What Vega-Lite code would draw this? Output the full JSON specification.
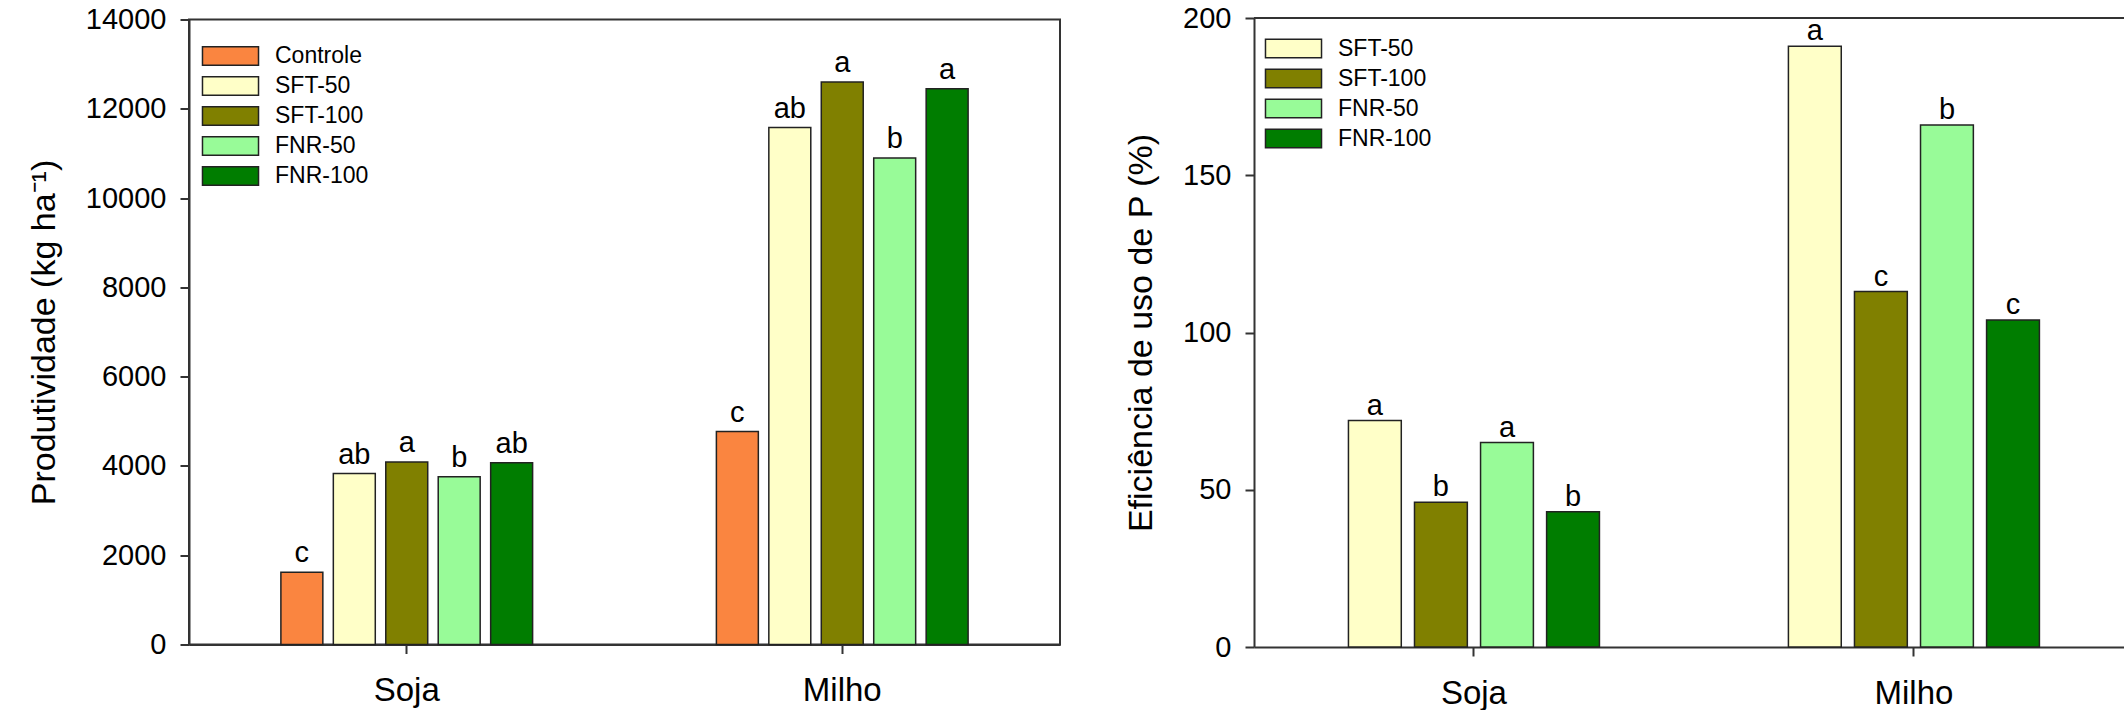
{
  "$schema": "https://vega.github.io/schema/vega-lite/v6.json",
  "padding": {"left": 26, "top": 4, "right": 0, "bottom": 0},
  "background": "white",
  "spacing": 63,
  "center": true,
  "datasets": {
    "prod": [
      {"cultura": "Soja", "trat": "Controle", "valor": 1620, "letra": "c"},
      {"cultura": "Soja", "trat": "SFT-50", "valor": 3830, "letra": "ab"},
      {"cultura": "Soja", "trat": "SFT-100", "valor": 4090, "letra": "a"},
      {"cultura": "Soja", "trat": "FNR-50", "valor": 3760, "letra": "b"},
      {"cultura": "Soja", "trat": "FNR-100", "valor": 4070, "letra": "ab"},
      {"cultura": "Milho", "trat": "Controle", "valor": 4770, "letra": "c"},
      {"cultura": "Milho", "trat": "SFT-50", "valor": 11580, "letra": "ab"},
      {"cultura": "Milho", "trat": "SFT-100", "valor": 12600, "letra": "a"},
      {"cultura": "Milho", "trat": "FNR-50", "valor": 10900, "letra": "b"},
      {"cultura": "Milho", "trat": "FNR-100", "valor": 12450, "letra": "a"}
    ],
    "efic": [
      {"cultura": "Soja", "trat": "SFT-50", "valor": 72, "letra": "a"},
      {"cultura": "Soja", "trat": "SFT-100", "valor": 46, "letra": "b"},
      {"cultura": "Soja", "trat": "FNR-50", "valor": 65, "letra": "a"},
      {"cultura": "Soja", "trat": "FNR-100", "valor": 43, "letra": "b"},
      {"cultura": "Milho", "trat": "SFT-50", "valor": 191, "letra": "a"},
      {"cultura": "Milho", "trat": "SFT-100", "valor": 113, "letra": "c"},
      {"cultura": "Milho", "trat": "FNR-50", "valor": 166, "letra": "b"},
      {"cultura": "Milho", "trat": "FNR-100", "valor": 104, "letra": "c"}
    ],
    "topo": [{"v": 200}]
  },
  "config": {
    "font": "Liberation Sans",
    "view": {"stroke": "#333333", "strokeWidth": 2},
    "axis": {
      "grid": false,
      "domainColor": "#333333",
      "domainWidth": 2,
      "tickColor": "#333333",
      "tickWidth": 2,
      "tickSize": 9,
      "labelFont": "Liberation Sans",
      "labelColor": "black",
      "titleFont": "Liberation Sans",
      "titleFontWeight": "normal",
      "titleColor": "black"
    },
    "axisY": {"labelFontSize": 29, "labelPadding": 14, "titleFontSize": 34, "titlePadding": 24},
    "axisX": {"labelFontSize": 33, "labelPadding": 21, "labelAngle": 0},
    "legend": {
      "orient": "none",
      "padding": 0,
      "labelFont": "Liberation Sans",
      "labelFontSize": 23,
      "labelColor": "black",
      "labelOffset": 33,
      "rowPadding": 5,
      "symbolType": "M-3.03,-1H3.03V1H-3.03Z",
      "symbolSize": 342,
      "symbolStrokeColor": "#222222",
      "symbolStrokeWidth": 1.5,
      "symbolOpacity": 1
    }
  },
  "resolve": {
    "scale": {"color": "independent", "xOffset": "independent", "x": "independent", "y": "independent"},
    "legend": {"color": "independent"}
  },
  "hconcat": [
    {
      "width": 871,
      "height": 625,
      "data": {"name": "prod"},
      "encoding": {
        "x": {
          "field": "cultura", "type": "nominal", "sort": ["Soja", "Milho"],
          "scale": {"paddingInner": 0.422, "paddingOuter": 0.211},
          "axis": {"title": null}
        },
        "xOffset": {
          "field": "trat", "type": "nominal",
          "sort": ["Controle", "SFT-50", "SFT-100", "FNR-50", "FNR-100"],
          "scale": {"paddingInner": 0.2, "paddingOuter": 0}
        },
        "y": {
          "field": "valor", "type": "quantitative",
          "scale": {"domain": [0, 14000], "nice": false},
          "axis": {"values": [0, 2000, 4000, 6000, 8000, 10000, 12000, 14000], "format": "d", "title": "Produtividade (kg ha⁻¹)"}
        }
      },
      "layer": [
        {
          "mark": {"type": "bar", "stroke": "#222222", "strokeWidth": 1.5},
          "encoding": {
            "color": {
              "field": "trat", "type": "nominal",
              "scale": {
                "domain": ["Controle", "SFT-50", "SFT-100", "FNR-50", "FNR-100"],
                "range": ["#FA8540", "#FFFFC8", "#808000", "#98FB98", "#007D00"]
              },
              "legend": {"title": null, "legendX": 30, "legendY": 25}
            }
          }
        },
        {
          "mark": {"type": "text", "baseline": "alphabetic", "dy": -10, "fontSize": 29, "color": "black"},
          "encoding": {"text": {"field": "letra"}}
        }
      ]
    },
    {
      "width": 874,
      "height": 629,
      "view": {"stroke": null},
      "layer": [
        {
          "data": {"name": "efic"},
          "encoding": {
            "x": {
              "field": "cultura", "type": "nominal", "sort": ["Soja", "Milho"],
              "scale": {"paddingInner": 0.4295, "paddingOuter": 0.208, "align": 0.516},
              "axis": {"title": null}
            },
            "xOffset": {
              "field": "trat", "type": "nominal",
              "sort": ["SFT-50", "SFT-100", "FNR-50", "FNR-100"],
              "scale": {"paddingInner": 0.2, "paddingOuter": 0}
            },
            "y": {
              "field": "valor", "type": "quantitative",
              "scale": {"domain": [0, 200], "nice": false},
              "axis": {"values": [0, 50, 100, 150, 200], "title": "Eficiência de uso de P (%)"}
            }
          },
          "layer": [
            {
              "mark": {"type": "bar", "stroke": "#222222", "strokeWidth": 1.5},
              "encoding": {
                "color": {
                  "field": "trat", "type": "nominal",
                  "scale": {
                    "domain": ["SFT-50", "SFT-100", "FNR-50", "FNR-100"],
                    "range": ["#FFFFC8", "#808000", "#98FB98", "#007D00"]
                  },
                  "legend": {"title": null, "legendX": 28, "legendY": 19}
                }
              }
            },
            {
              "mark": {"type": "text", "baseline": "alphabetic", "dy": -6, "fontSize": 29, "color": "black"},
              "encoding": {"text": {"field": "letra"}}
            }
          ]
        },
        {
          "data": {"name": "topo"},
          "mark": {"type": "rule", "color": "#333333", "strokeWidth": 2},
          "encoding": {"y": {"field": "v", "type": "quantitative"}}
        }
      ]
    }
  ]
}
